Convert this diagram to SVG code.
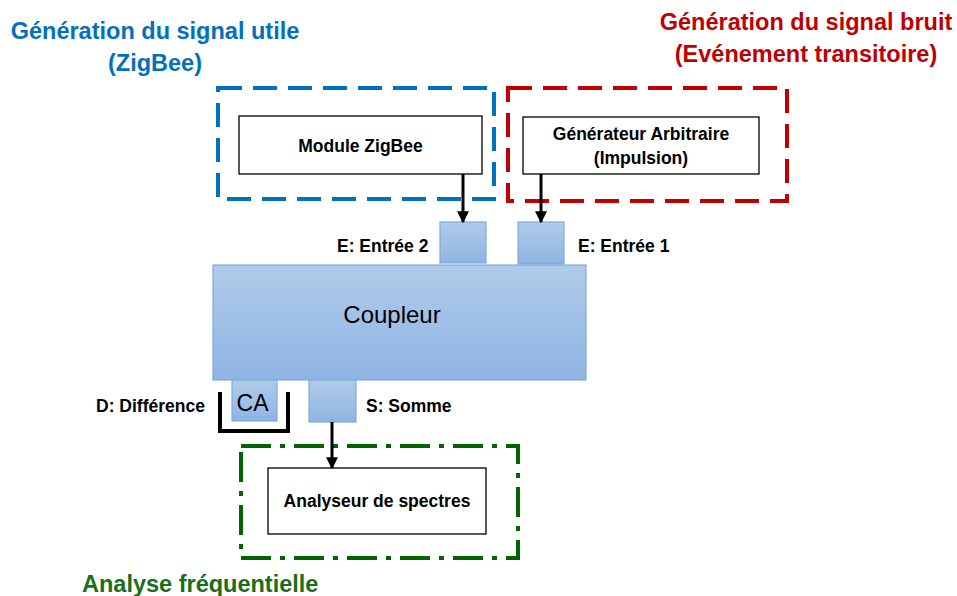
<svg xmlns="http://www.w3.org/2000/svg" width="957" height="596" viewBox="0 0 957 596">
<defs>
<linearGradient id="blueGrad" x1="0" y1="0" x2="0" y2="1">
<stop offset="0" stop-color="#b0cbea"/>
<stop offset="1" stop-color="#8fb4e3"/>
</linearGradient>
<marker id="arrow" markerWidth="12" markerHeight="12" refX="9" refY="5" orient="auto" markerUnits="userSpaceOnUse" viewBox="0 0 10 10">
<path d="M0,0 L10,5 L0,10 Z" fill="#000"/>
</marker>
</defs>
<style>
.title{font-family:"Liberation Sans",Arial,sans-serif;font-weight:bold;font-size:23.5px;text-anchor:middle}
.lbl{font-family:"Liberation Sans",Arial,sans-serif;font-weight:bold;font-size:17.5px}
.box{fill:#fff;stroke:#000;stroke-width:1.3}
.port{fill:url(#blueGrad);stroke:#7eaadf;stroke-width:1.2}
.big{font-family:"Liberation Sans",Arial,sans-serif;font-size:24px;text-anchor:middle;fill:#000}
.conn{stroke:#000;stroke-width:3;fill:none}
</style>
<rect width="957" height="596" fill="#fff"/>

<g id="group-zigbee">
<rect x="218" y="88" width="276" height="111" fill="none" stroke="#0070c0" stroke-width="4" stroke-dasharray="24 11"/>
<text class="title" x="155" y="39" fill="#0070c0">Génération du signal utile</text>
<text class="title" x="155" y="71" fill="#0070c0">(ZigBee)</text>
</g>
<g id="group-bruit">
<rect x="508" y="88" width="279" height="113" fill="none" stroke="#c00000" stroke-width="4" stroke-dasharray="24 11"/>
<text class="title" x="806" y="30" fill="#c00000">Génération du signal bruit</text>
<text class="title" x="806" y="62" fill="#c00000">(Evénement transitoire)</text>
</g>
<g id="group-analyse">
<rect x="241" y="446" width="277" height="112" fill="none" stroke="#006400" stroke-width="4" stroke-dasharray="30 9 5 9"/>
<text class="title" x="82" y="592" fill="#1a6e1a" style="text-anchor:start">Analyse fréquentielle</text>
</g>

<g id="module-zigbee">
<rect class="box" x="239" y="116" width="243" height="58"/>
<text class="lbl" x="360.5" y="152" text-anchor="middle">Module ZigBee</text>
</g>
<g id="generateur">
<rect class="box" x="523" y="117" width="236" height="57"/>
<text class="lbl" x="641" y="140" text-anchor="middle">Générateur Arbitraire</text>
<text class="lbl" x="641" y="164" text-anchor="middle">(Impulsion)</text>
</g>
<g id="analyseur">
<rect class="box" x="268" y="468" width="218" height="66"/>
<text class="lbl" x="377" y="507" text-anchor="middle">Analyseur de spectres</text>
</g>

<g id="coupleur">
<rect class="port" x="213" y="265" width="373" height="115"/>
<text class="big" x="392" y="323">Coupleur</text>
</g>
<g id="port-entree2">
<rect class="port" x="440" y="222" width="46" height="41"/>
<text class="lbl" x="337" y="252">E: Entrée 2</text>
</g>
<g id="port-entree1">
<rect class="port" x="518" y="222" width="46" height="42"/>
<text class="lbl" x="578" y="252">E: Entrée 1</text>
</g>
<g id="port-difference">
<rect class="port" x="232" y="380" width="45" height="41"/>
<text class="big" x="252.5" y="411" style="font-size:23px">CA</text>
<text class="lbl" x="96" y="412">D: Différence</text>
</g>
<g id="port-somme">
<rect class="port" x="309" y="380" width="47" height="42"/>
<text class="lbl" x="366" y="412">S: Somme</text>
</g>

<g id="connectors">
<line class="conn" x1="463" y1="174" x2="463" y2="222" marker-end="url(#arrow)"/>
<line class="conn" x1="541" y1="174" x2="541" y2="222" marker-end="url(#arrow)"/>
<line class="conn" x1="332" y1="422" x2="332" y2="468" marker-end="url(#arrow)"/>
<path d="M220,392 V431 H288 V392" fill="none" stroke="#000" stroke-width="4"/>
</g>
</svg>
